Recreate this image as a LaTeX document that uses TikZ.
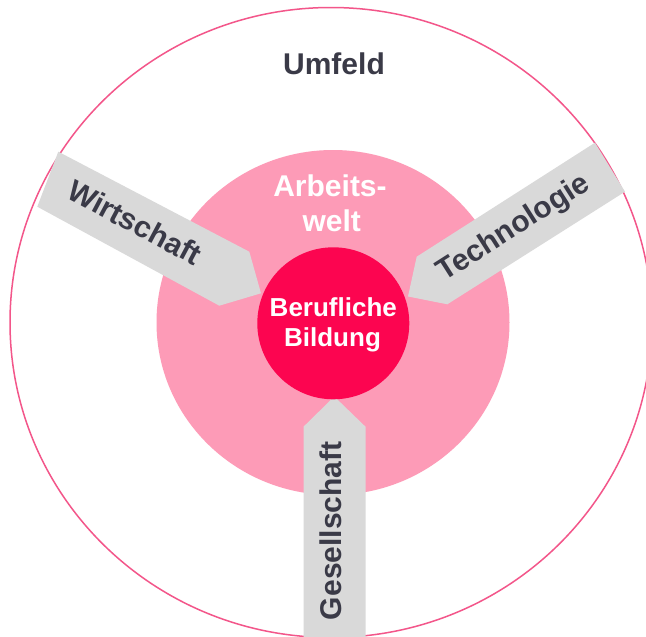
\documentclass[tikz,border=0pt]{standalone}
\usepackage{fontspec}
\setmainfont{Liberation Sans}
\definecolor{ringline}{HTML}{F3568A}
\definecolor{midpink}{HTML}{FD9BB7}
\definecolor{corered}{HTML}{FC0550}
\definecolor{arrowgray}{HTML}{D9D9D9}
\definecolor{textdark}{HTML}{3A3A47}
\begin{document}
\begin{tikzpicture}[x=1pt,y=-1pt,
  lbl/.style={font=\fontsize{30}{34}\selectfont\bfseries, text=textdark, anchor=base, inner sep=0pt},
  wlbl/.style={lbl, text=white},
  corelbl/.style={wlbl, font=\fontsize{26}{30}\selectfont\bfseries},
  arrowshape/.style={fill=arrowgray, draw=none}]
\clip (0,0) rectangle (646,637);
\fill[white] (0,0) rectangle (646,637);
% rings
\draw[ringline, line width=1.5pt, fill=white] (331,322.5) ellipse [x radius=321pt, y radius=315pt];
\fill[midpink] (333,322.5) ellipse [x radius=176.5pt, y radius=172.5pt];
% arrows
\fill[arrowshape] (58.3,151.7) -- (249.3,251.7) -- (261,293.3) -- (219.3,305.7) -- (37.3,206.7) -- cycle;
\fill[arrowshape] (595,142.7) -- (625,191.7) -- (447.3,304.3) -- (408,296.5) -- (416.7,256.7) -- cycle;
\fill[arrowshape] (303.5,645) -- (303.5,426.7) -- (334.3,396.5) -- (365.5,426.7) -- (365.5,645) -- cycle;
% core
\fill[corered] (333.3,323.3) circle [radius=76pt];
% labels
\node[lbl] (umfeld) at (334,74) {Umfeld};
\node[wlbl] (arbeits) at (330,196.7) {Arbeits-};
\node[wlbl] (welt) at (331.7,231.7) {welt};
\node[corelbl] (beruf) at (333.3,316.7) {Berufliche};
\node[corelbl] (bildung) at (332.5,346.7) {Bildung};
\node[lbl, rotate=-28] (wirtschaft) at (130,232) {Wirtschaft};
\node[lbl, rotate=32.5] (technologie) at (518,235) {Technologie};
\node[lbl, rotate=90] (gesellschaft) at (341.7,530.8) {Gesellschaft};
\end{tikzpicture}
\end{document}
